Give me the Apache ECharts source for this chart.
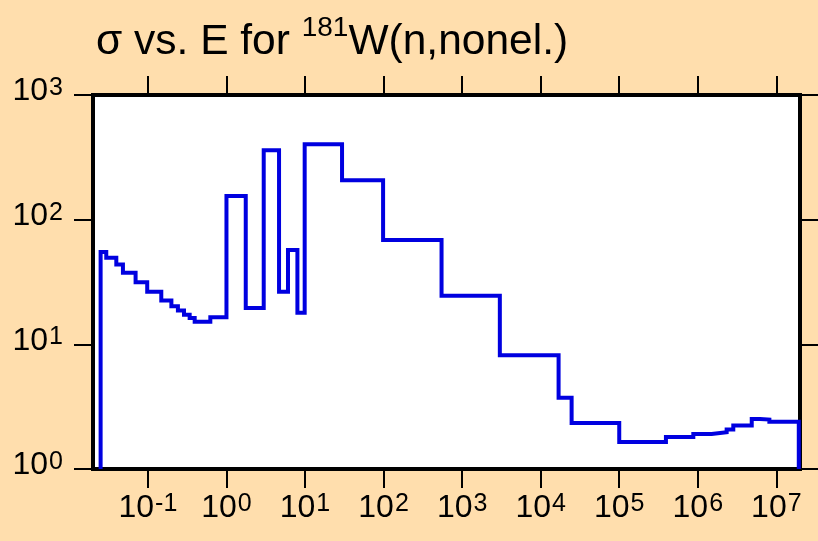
<!DOCTYPE html>
<html>
<head>
<meta charset="utf-8">
<script src="https://cdn.jsdelivr.net/npm/echarts@6/dist/echarts.min.js"></script>
<style>
html,body{margin:0;padding:0;background:#FFDEAD;}
#chart{width:818px;height:541px;}
</style>
</head>
<body>
<div id="chart"></div>
<script>
// Bin lower edges (eV); last entry is the upper edge of the final bin
const energyEdges = [0.025, 0.0295, 0.0396, 0.0481, 0.0697, 0.098, 0.148, 0.199, 0.241, 0.288,
  0.340, 0.394, 0.623, 1.0, 1.76, 2.98, 4.67, 6.07, 8.0, 9.9, 29.6, 98.6, 547, 3020, 16900,
  24760, 1e5, 3.93e5, 8.77e5, 1.5e6, 2.33e6, 2.83e6, 4.86e6, 6.2e6, 8.15e6, 1.93e7];
// Cross section (b) for each bin
const sigmaValues = [55, 49.5, 43.7, 37.5, 31.5, 26.4, 22.5, 20.2, 18.7, 17.3, 16.3, 15.2, 16.5,
  155, 19.6, 360, 26.4, 57, 17.9, 403, 207, 68.6, 24.5, 8.17, 3.72, 2.34, 1.65, 1.81, 1.91,
  1.97, 2.07, 2.23, 2.52, 2.49, 2.39];
const xTickValues = [0.1, 1, 10, 100, 1000, 1e4, 1e5, 1e6, 1e7];
const yTickValues = [1, 10, 100, 1000];
const titleMain = 'σ vs. E for ';
const titleSup = '181';
const titleRest = 'W(n,nonel.)';

const baseline = 1;
const pts = [[energyEdges[0], baseline]];
for (let i = 0; i < sigmaValues.length; i++) pts.push([energyEdges[i], sigmaValues[i]]);
pts.push([energyEdges[energyEdges.length - 1], baseline]);

const FONT = 'Liberation Sans, Arial, sans-serif';
const powLabel = v => '{b|10}{s|' + Math.round(Math.log10(v)) + '}';
const richLbl = {
  b: {fontSize: 32, fontFamily: FONT, color: '#000', lineHeight: 32, padding: [10, 0, 0, 0], verticalAlign: 'bottom'},
  s: {fontSize: 25, fontFamily: FONT, color: '#000', lineHeight: 25, verticalAlign: 'top', padding: [0, 0, 0, 1]}
};
const tickStyle = {show: true, inside: false, length: 19, lineStyle: {color: '#000', width: 2}};

const chart = echarts.init(document.getElementById('chart'));
chart.setOption({
  animation: false,
  backgroundColor: '#FFDEAD',
  title: {
    left: 96, top: 14, padding: 0,
    text: '{m|' + titleMain + '}{s|' + titleSup + '}{m|' + titleRest + '}',
    textStyle: {
      fontWeight: 'normal',
      rich: {
        m: {fontSize: 42.5, fontFamily: FONT, fontWeight: 'normal', color: '#000', lineHeight: 50, verticalAlign: 'bottom'},
        s: {fontSize: 28, fontFamily: FONT, fontWeight: 'normal', color: '#000', lineHeight: 20, verticalAlign: 'top'}
      }
    }
  },
  grid: {left: 93, right: 18, top: 95, bottom: 72, show: true, backgroundColor: '#fff',
    borderColor: '#000', borderWidth: 4},
  xAxis: [{
    type: 'log', logBase: 10, min: 0.02, max: 2e7, position: 'bottom',
    axisLine: {show: false}, splitLine: {show: false}, minorTick: {show: false},
    axisTick: Object.assign({customValues: xTickValues}, tickStyle),
    axisLabel: {customValues: xTickValues, margin: 23, formatter: powLabel, rich: richLbl}
  }, {
    type: 'log', logBase: 10, min: 0.02, max: 2e7, position: 'top',
    axisLine: {show: false}, splitLine: {show: false},
    axisTick: Object.assign({customValues: xTickValues}, tickStyle),
    axisLabel: {show: false}
  }],
  yAxis: [{
    type: 'log', logBase: 10, min: 1, max: 1000, position: 'left',
    axisLine: {show: false}, splitLine: {show: false},
    axisTick: Object.assign({customValues: yTickValues}, tickStyle),
    axisLabel: {customValues: yTickValues, margin: 30, padding: [0, 0, 7, 0], formatter: powLabel, rich: richLbl}
  }, {
    type: 'log', logBase: 10, min: 1, max: 1000, position: 'right',
    axisLine: {show: false}, splitLine: {show: false},
    axisTick: Object.assign({customValues: yTickValues}, tickStyle),
    axisLabel: {show: false}
  }],
  series: [{
    type: 'line', step: 'end', data: pts, showSymbol: false, symbol: 'none',
    xAxisIndex: 0, yAxisIndex: 0,
    lineStyle: {color: '#0000e0', width: 4, join: 'miter'},
    clip: true
  }]
});
</script>
</body>
</html>
